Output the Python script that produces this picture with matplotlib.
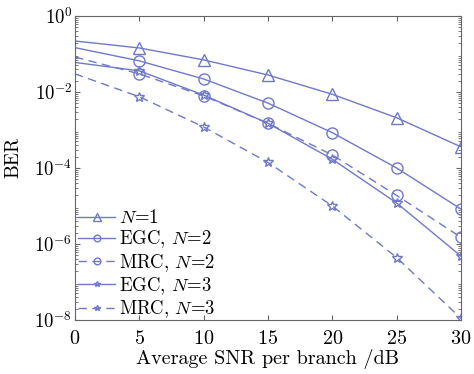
import numpy as np
import matplotlib
matplotlib.use("Agg")
import matplotlib.pyplot as plt
from matplotlib.ticker import LogLocator, NullFormatter

# BER curves, one point every 5 dB
snr_db = [0, 5, 10, 15, 20, 25, 30]
ber_n1 = [0.22, 0.144, 0.07, 0.028, 0.0087, 0.0021, 3.6e-4]
ber_egc2 = [0.147, 0.066, 0.022, 0.0051, 8.5e-4, 1.0e-4, 8.3e-6]
ber_mrc2 = [0.083, 0.030, 0.0079, 0.0015, 2.2e-4, 1.9e-5, 1.5e-6]
ber_egc3 = [0.060, 0.036, 0.0083, 0.0015, 1.7e-4, 1.2e-5, 4.8e-7]
ber_mrc3 = [0.030, 0.0075, 0.0012, 1.4e-4, 1.0e-5, 4.4e-7, 1.1e-8]

labels = ["$N$=1", "EGC, $N$=2", "MRC, $N$=2", "EGC, $N$=3", "MRC, $N$=3"]
y_exps = [0, -2, -4, -6, -8]

plt.rcParams["font.family"] = "serif"
plt.rcParams["font.serif"] = ["cmr10"]
plt.rcParams["mathtext.fontset"] = "cm"
plt.rcParams["axes.formatter.use_mathtext"] = True

col = "#7078c8"
fig = plt.figure(figsize=(4.74, 3.74), dpi=100)
ax = fig.add_axes([75 / 474, 1 - 320 / 374, 386 / 474, 304 / 374])

# markers only from 5 dB on, like the reference
style = dict(color=col, lw=1, mfc="none", markevery=slice(1, None))
dash = (6, 4)
ax.semilogy(snr_db, ber_n1, "-", marker="^", ms=9, label=labels[0], **style)
ax.semilogy(snr_db, ber_egc2, "-", marker="o", ms=8, label=labels[1], **style)
ax.semilogy(snr_db, ber_mrc2, "--", marker="o", ms=8, dashes=dash, label=labels[2], **style)
ax.semilogy(snr_db, ber_egc3, "-", marker="*", ms=7, label=labels[3], **style)
ax.semilogy(snr_db, ber_mrc3, "--", marker="*", ms=7, dashes=dash, label=labels[4], **style)

ax.set_xlim(0, 30)
ax.set_ylim(1e-8, 1)
ax.set_xticks([0, 5, 10, 15, 20, 25, 30])
ax.set_yticks([10.0 ** e for e in y_exps])
ax.set_yticklabels([r"$10^{%d}$" % e for e in y_exps])
ax.yaxis.set_minor_locator(LogLocator(base=10, subs=np.arange(2, 10), numticks=20))
ax.yaxis.set_minor_formatter(NullFormatter())
ax.tick_params(which="both", direction="in", top=True, right=True, color="#666666")
ax.tick_params(axis="x", labelsize=14.5, pad=7)
ax.tick_params(axis="y", labelsize=13.5, pad=2)
ax.tick_params(which="minor", length=2)
for sp in ax.spines.values():
    sp.set_color("#666666")

ax.set_xlabel("Average SNR per branch /dB", fontsize=14.5, labelpad=1)
ax.set_ylabel("BER", fontsize=14)
ax.yaxis.set_label_coords(-0.137, 0.536)

ax.legend(loc="lower left", bbox_to_anchor=(0, -0.01), frameon=False, fontsize=13.5,
          handlelength=2.0, markerscale=0.6, labelspacing=0.08, handletextpad=0.2,
          borderaxespad=0.1, borderpad=0.05)

fig.savefig("out.png", dpi=100)
